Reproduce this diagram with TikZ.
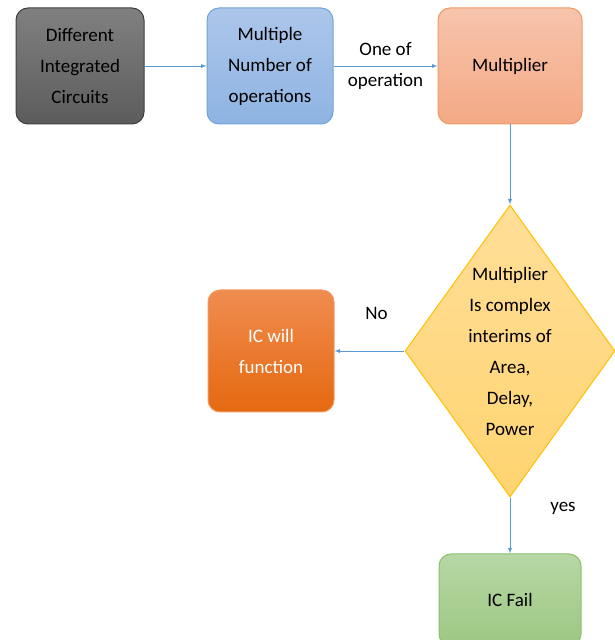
\documentclass[tikz,border=0pt]{standalone}
\usepackage{fontspec}
\setmainfont{Carlito}
\usepackage{tikz}
\usetikzlibrary{arrows,shapes,positioning,calc}
\definecolor{linkblue}{HTML}{5B9BD5}
\tikzstyle{box}=[rectangle, rounded corners=12pt, line width=1pt, align=center, inner sep=0pt, font=\fontsize{19}{31}\selectfont]
\tikzstyle{lab}=[align=center, font=\fontsize{19}{31}\selectfont]
\tikzstyle{link}=[draw=linkblue, line width=0.9pt, -latex]

\begin{document}
\begin{tikzpicture}[x=1pt, y=1pt]
      \clip (0,0) rectangle (615,640);
      % top row
      \node at (80,574) [box, minimum width=128pt, minimum height=116pt, draw={rgb,255:red,64;green,64;blue,64},
        top color={rgb,255:red,128;green,128;blue,128}, bottom color={rgb,255:red,92;green,92;blue,92}] (dic) {Different\\Integrated\\Circuits};
      \node at (270,574) [box, minimum width=126pt, minimum height=116pt, draw={rgb,255:red,111;green,164;blue,218},
        top color={rgb,255:red,173;green,198;blue,234}, bottom color={rgb,255:red,142;green,180;blue,227}] (mno) {Multiple\\Number of\\operations};
      \node at (510,574) [box, minimum width=144pt, minimum height=116pt, draw={rgb,255:red,241;green,154;blue,99},
        top color={rgb,255:red,247;green,196;blue,172}, bottom color={rgb,255:red,244;green,169;blue,133}] (mul) {Multiplier};
      % decision
      \node at (510,289) [diamond, line width=1pt, inner sep=0pt, minimum width=210pt, minimum height=292pt,
        draw={rgb,255:red,255;green,192;blue,0}, top color={rgb,255:red,255;green,222;blue,152}, bottom color={rgb,255:red,255;green,212;blue,112},
        label={[lab]center:{Multiplier\\Is complex\\interims of\\Area,\\Delay,\\Power}}] (dec) {};
      \node at (271,289) [box, minimum width=126pt, minimum height=122pt, text=white, draw={rgb,255:red,241;green,154;blue,99},
        top color={rgb,255:red,240;green,140;blue,80}, bottom color={rgb,255:red,229;green,105;blue,16}] (icw) {IC will\\function};
      \node at (510,40) [box, minimum width=142pt, minimum height=92pt, draw={rgb,255:red,139;green,193;blue,106},
        top color={rgb,255:red,183;green,216;blue,165}, bottom color={rgb,255:red,157;green,199;blue,131}] (icf) {IC Fail};
      %
      \draw [link] (dic) -- (mno);
      \draw [link] (mno) -- node[lab] {One of\\operation} (mul);
      \draw [link] (mul) -- (dec);
      \draw [link] (dec) -- node[lab, pos=0.4, yshift=38pt] {No} (icw);
      \draw [link] (dec) -- node[lab, pos=0.2, xshift=53pt] {yes} (icf);
\end{tikzpicture}
\end{document}
